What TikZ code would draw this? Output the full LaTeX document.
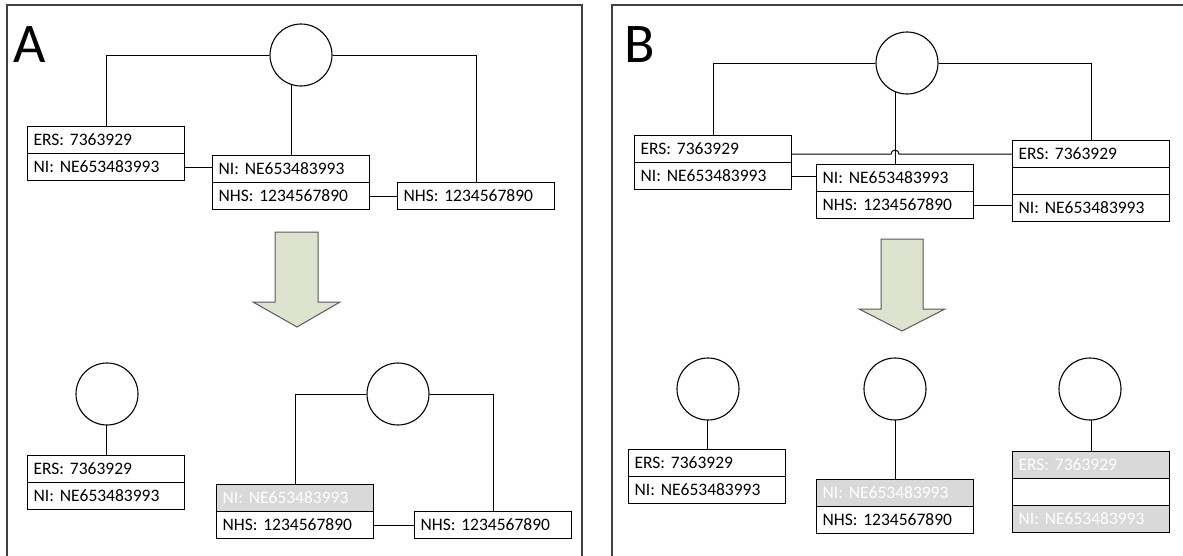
\documentclass[tikz,border=0pt]{standalone}
\usepackage{fontspec}
\setmainfont{Carlito}
\usetikzlibrary{backgrounds,calc}
\definecolor{framec}{HTML}{404040}
\definecolor{grayfill}{HTML}{D9D9D9}
\definecolor{arrowfill}{HTML}{DDE3CE}
\definecolor{arrowline}{HTML}{595959}
\begin{document}
\begin{tikzpicture}[x=1pt,y=-1pt,
 rowbox/.style={draw=black, line width=1.1pt, minimum width=157pt, minimum height=27pt, text width=145pt, inner xsep=6pt, inner ysep=0pt, align=left, font=\fontsize{17.5}{20}\selectfont, anchor=north west},
 grayrow/.style={rowbox, fill=grayfill, text=white},
 whiterow/.style={rowbox, fill=white},
 person/.style={circle, draw=black, line width=1.1pt, minimum size=62pt, inner sep=0pt, fill=white},
 link/.style={line width=1pt},
 bigarrow/.style={fill=arrowfill, draw=arrowline, line width=1pt},
 panel/.style={draw=framec, line width=1.5pt},
 letter/.style={font=\fontsize{56}{60}\selectfont, anchor=base west, inner sep=0pt}]
\useasboundingbox (0,0) rectangle (1183,555);
\clip (0,0) rectangle (1183,555);
\begin{scope}[on background layer]
\fill[white] (0,0) rectangle (1183,555);
\end{scope}

% panel frames
\draw[panel] (7,560) -- (7,5) -- (582,5) -- (582,560);
\draw[panel] (612,560) -- (612,5) -- (1190,5);
\node[letter] (labA) at (13,62) {A};
\node[letter] (labB) at (624,62) {B};

% ---------- Panel A, top ----------
\node[person] (ac) at (301,55) {};
\node[whiterow] (aERS) at (27,126) {ERS: 7363929};
\node[whiterow] (aNI) at (27,153) {NI: NE653483993};
\node[whiterow] (aMNI) at (212,155) {NI: NE653483993};
\node[whiterow] (aMNHS) at (212,182) {NHS: 1234567890};
\node[whiterow] (aNHS) at (397,182) {NHS: 1234567890};

% arrow A
\draw[bigarrow] (275,232) -- (318,232) -- (318,302) -- (340,302) -- (297,327) -- (253,302) -- (275,302) -- cycle;

% ---------- Panel A, bottom ----------
\node[person] (ac2) at (107,394) {};
\node[whiterow] (aERS2) at (27,455) {ERS: 7363929};
\node[whiterow] (aNI2) at (27,482) {NI: NE653483993};
\node[person] (ac3) at (398,394) {};
\node[grayrow] (aGNI) at (216,484) {NI: NE653483993};
\node[whiterow] (aMNHS2) at (216,511) {NHS: 1234567890};
\node[whiterow] (aNHS2) at (414,511) {NHS: 1234567890};

% ---------- Panel B, top ----------
\node[person] (bc) at (907,63) {};
\node[whiterow] (bERS1) at (634,135) {ERS: 7363929};
\node[whiterow] (bNI1) at (634,162) {NI: NE653483993};
\node[whiterow] (bMNI) at (816,164) {NI: NE653483993};
\node[whiterow] (bMNHS) at (816,191) {NHS: 1234567890};
\node[whiterow] (bERS3) at (1012,140) {ERS: 7363929};
\node[whiterow] (bE3) at (1012,167) {};
\node[whiterow] (bNI3) at (1012,194) {NI: NE653483993};

% arrow B
\draw[bigarrow] (881,239) -- (923,239) -- (923,309) -- (945,309) -- (902,331) -- (859,309) -- (881,309) -- cycle;

% ---------- Panel B, bottom ----------
\node[person] (bc1) at (708,389) {};
\node[whiterow] (bERS4) at (628,449) {ERS: 7363929};
\node[whiterow] (bNI4) at (628,476) {NI: NE653483993};
\node[person] (bc2) at (895,389) {};
\node[grayrow] (bGNI5) at (816,479) {NI: NE653483993};
\node[whiterow] (bNHS5) at (816,506) {NHS: 1234567890};
\node[person] (bc3) at (1090,389) {};
\node[grayrow] (bGERS6) at (1012,451) {ERS: 7363929};
\node[whiterow] (bE6) at (1012,478) {};
\node[grayrow] (bGNI6) at (1012,505) {NI: NE653483993};

% ---------- connectors ----------
\begin{scope}[on background layer]
\draw[link] (aERS.north) |- (ac.west);
\draw[link] (ac.east) -| (aNHS.north);
\draw[link] (aMNI.north) -- (aMNI.north |- ac.center);
\draw[link] (aNI.east) -- (aNI.east -| aMNI.west);
\draw[link] (aMNHS.east) -- (aMNHS.east -| aNHS.west);

\draw[link] (aERS2.north) -- (aERS2.north |- ac2.center);
\draw[link] (aGNI.north) |- (ac3.west);
\draw[link] (ac3.east) -| (aNHS2.north);
\draw[link] (aMNHS2.east) -- (aMNHS2.east -| aNHS2.west);

\draw[link] (bERS1.north) |- (bc.west);
\draw[link] (bc.east) -| (bERS3.north);
\draw[link] (bMNI.north) -- (bMNI.north |- bc.center);
\coordinate (hop) at (bMNI.north |- bERS3.west);
\draw[link] (bERS3.west -| bERS1.east) -- ([xshift=-4pt]hop) arc[start angle=180,end angle=0,radius=4pt] -- (bERS3.west);
\draw[link] (bNI1.east) -- (bNI1.east -| bMNI.west);
\draw[link] (bMNHS.east) -- (bMNHS.east -| bNI3.west);

\draw[link] (bERS4.north) -- (bERS4.north |- bc1.center);
\draw[link] (bGNI5.north) -- (bGNI5.north |- bc2.center);
\draw[link] (bGERS6.north) -- (bGERS6.north |- bc3.center);
\end{scope}
\end{tikzpicture}
\end{document}
